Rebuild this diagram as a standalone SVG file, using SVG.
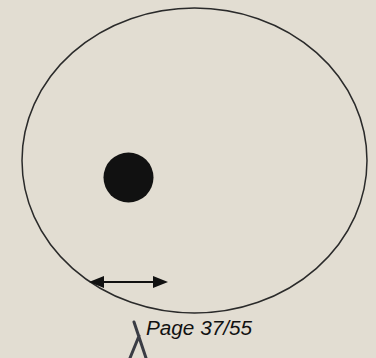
<svg xmlns="http://www.w3.org/2000/svg" width="376" height="358" viewBox="0 0 376 358">
<style>
.bg{fill:#e2ddd2}
.outline{fill:none;stroke:#2a2a2a;stroke-width:1.5}
.dot{fill:#111}
.conn{stroke:#111;stroke-width:2;fill:none}
.label{font-family:"Liberation Sans",Arial,sans-serif;font-style:italic;font-size:20px;fill:#111}
.glyph{stroke:#3a3c44;stroke-width:3;fill:none;stroke-linecap:round}
</style>
<defs>
<marker id="ah" viewBox="0 0 10 10" refX="9" refY="5" markerWidth="7" markerHeight="7" markerUnits="userSpaceOnUse" orient="auto-start-reverse">
<path d="M0,0 L10,5 L0,10 z" fill="#111"/>
</marker>
</defs>
<rect class="bg" x="0" y="0" width="376" height="358"/>
<g id="ellipse">
<ellipse class="outline" cx="194.5" cy="160.5" rx="172.5" ry="152.5"/>
</g>
<g id="dot">
<circle class="dot" cx="128.5" cy="177.5" r="25"/>
</g>
<g id="connectors">
<line x1="103" y1="282" x2="154" y2="282" class="conn"/>
<path d="M89,282 L104,276 L104,288 z" fill="#111"/>
<path d="M168,282 L153,276 L153,288 z" fill="#111"/>
</g>
<g id="page-label">
<text class="label" x="146" y="335" textLength="106" lengthAdjust="spacingAndGlyphs">Page 37/55</text>
</g>
<g id="lambda">
<path class="glyph" d="M134,322 L146,358 M139,336 L130,358"/>
</g>
</svg>
